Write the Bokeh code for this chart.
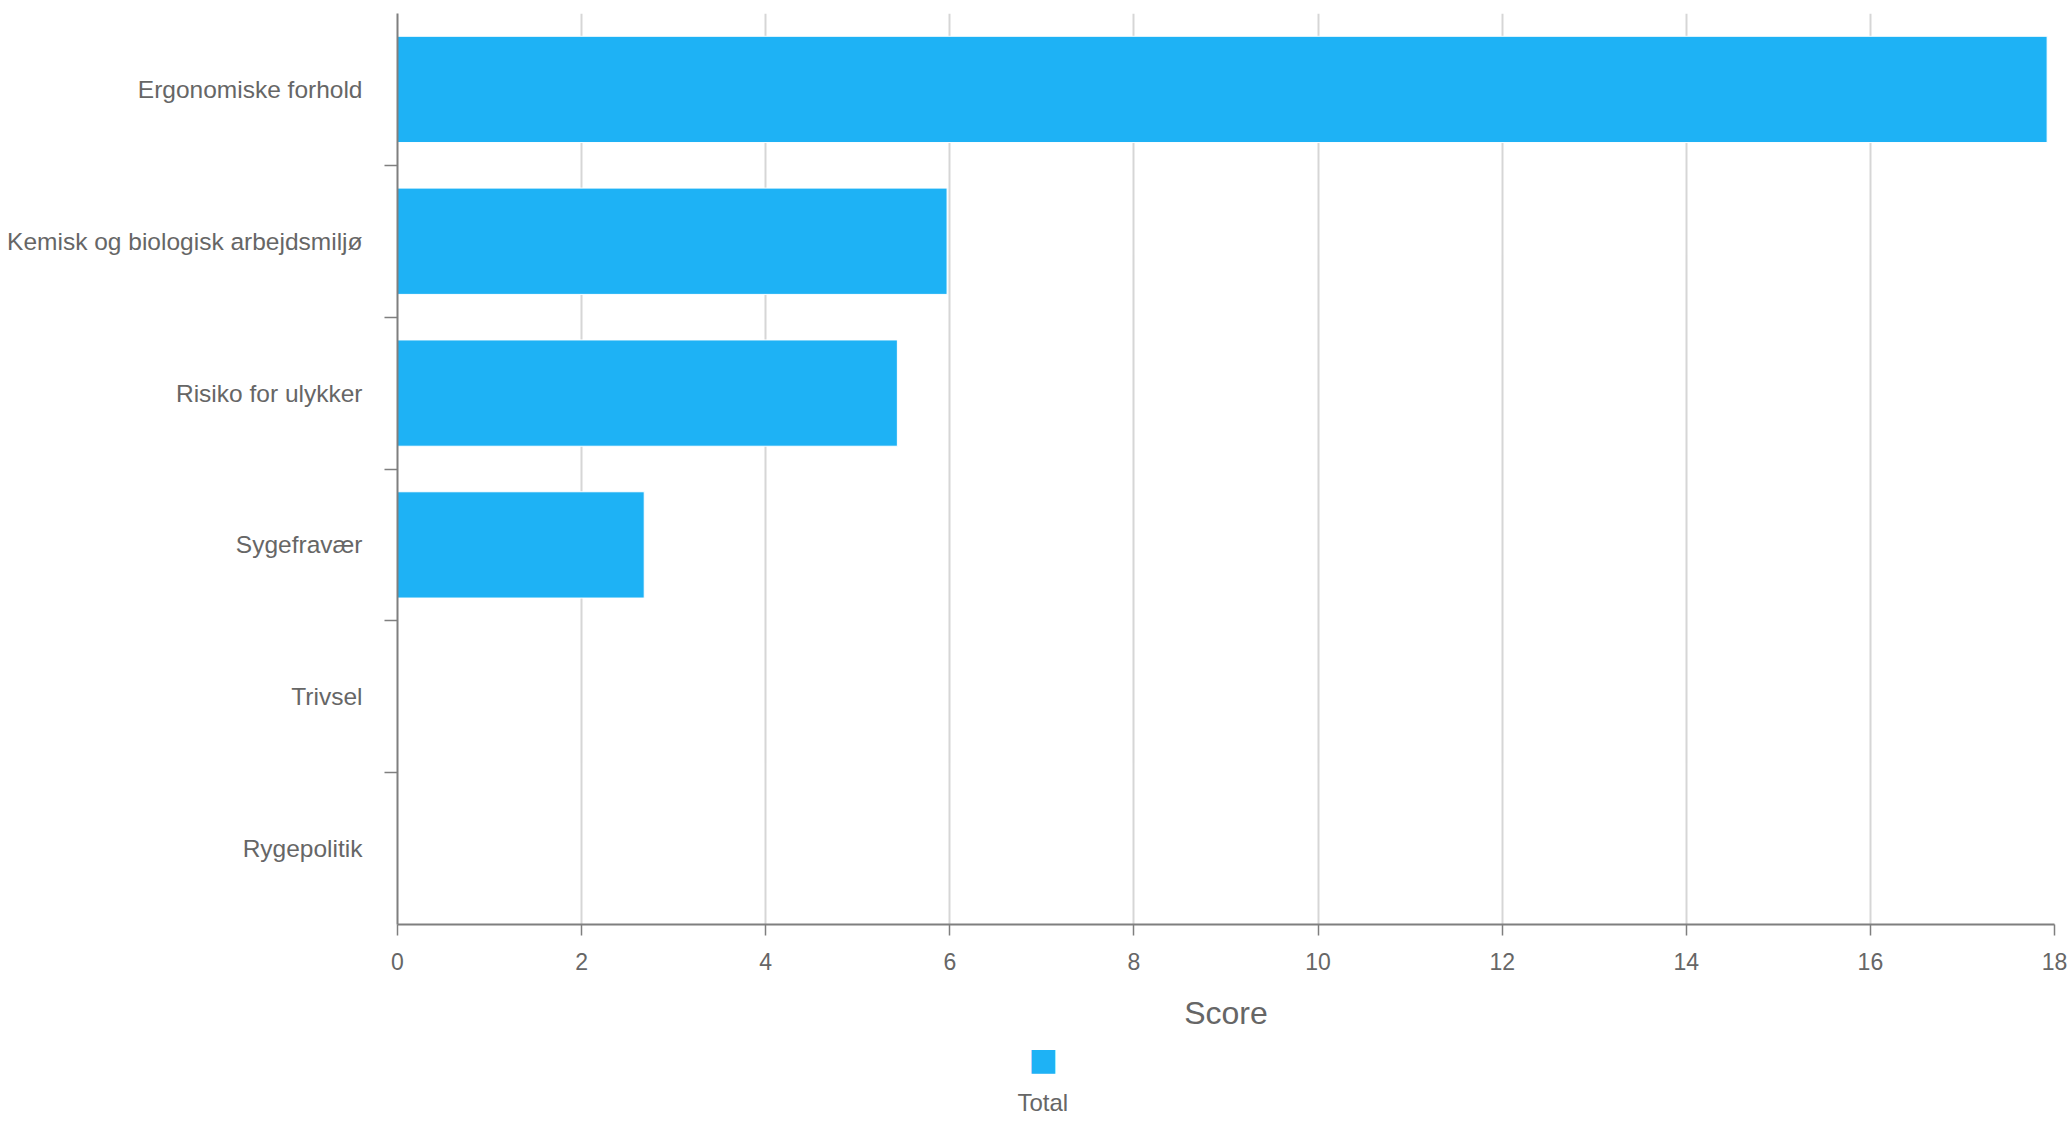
from bokeh.plotting import figure
from bokeh.models import (Range1d, FixedTicker, Title, ColumnDataSource)
from bokeh.embed import file_html
from bokeh.resources import INLINE

# ---- data -------------------------------------------------------------
categories = ["Ergonomiske forhold", "Kemisk og biologisk arbejdsmiljø",
              "Risiko for ulykker", "Sygefravær", "Trivsel", "Rygepolitik"]
scores = [17.92, 5.97, 5.43, 2.68, 0, 0]
x_ticks = [0, 2, 4, 6, 8, 10, 12, 14, 16, 18]
series_name = "Total"
x_title = "Score"

# ---- style ------------------------------------------------------------
FONT = "Liberation Sans"
TEXT = "#666666"
BAR = "#1EB2F5"
AXIS = "#7f7f7f"
GRID = "#d6d6d6"

n = len(categories)
# first category on top: category i sits at band n-1-i
pos = [n - 1 - i for i in range(n)]
src = ColumnDataSource(dict(pos=pos, cat=categories, score=scores))

p = figure(width=2070, height=1120, output_backend="svg", toolbar_location=None,
           y_range=Range1d(-0.5, n - 0.5),
           x_range=Range1d(x_ticks[0], x_ticks[-1]),
           min_border_left=397, min_border_right=16, min_border_top=13,
           min_border_bottom=195)
p.outline_line_color = None
p.background_fill_color = "white"

r = p.hbar(y="pos", right="score", left=0, height=0.7, source=src,
           fill_color=BAR, line_color="white", line_width=1)

# x axis
xa = p.xaxis[0]
xa.ticker = FixedTicker(ticks=x_ticks)
xa.axis_line_color = AXIS
xa.axis_line_width = 2
xa.major_tick_line_color = AXIS
xa.major_tick_line_width = 1.5
xa.major_tick_out = 11
xa.major_tick_in = 0
xa.minor_tick_line_color = None
xa.major_label_text_font = FONT
xa.major_label_text_font_size = "23px"
xa.major_label_text_color = TEXT
xa.major_label_standoff = 17
xa.axis_label = x_title
xa.axis_label_text_font = FONT
xa.axis_label_text_font_size = "32px"
xa.axis_label_text_font_style = "normal"
xa.axis_label_text_color = TEXT
xa.axis_label_standoff = 22

for g in p.xgrid:
    g.ticker = FixedTicker(ticks=x_ticks)
    g.grid_line_color = GRID
    g.grid_line_width = 2
for g in p.ygrid:
    g.visible = False

# y axis: labels at band centres, tick marks at band boundaries
ya = p.yaxis[0]
ya.ticker = FixedTicker(ticks=pos, minor_ticks=[i + 0.5 for i in range(n - 1)])
ya.major_label_overrides = {pp: c for pp, c in zip(pos, categories)}
ya.axis_line_color = AXIS
ya.axis_line_width = 2
ya.major_tick_line_color = None
ya.major_tick_out = 0
ya.major_tick_in = 0
ya.minor_tick_line_color = AXIS
ya.minor_tick_line_width = 1.5
ya.minor_tick_out = 13
ya.minor_tick_in = 0
ya.major_label_text_font = FONT
ya.major_label_text_font_size = "24.5px"
ya.major_label_text_color = TEXT
ya.major_label_standoff = 22

# legend below the plot: colour swatch with the series name underneath
p.add_layout(Title(text="\u25a0", align="left", offset=631, standoff=10,
                   text_font="DejaVu Sans", text_font_size="31px",
                   text_font_style="normal", text_color=BAR), "below")
p.add_layout(Title(text=series_name, align="left", offset=620, standoff=10,
                   text_font=FONT, text_font_size="24px",
                   text_font_style="normal", text_color=TEXT), "below")

open("out.html", "w").write(file_html(p, INLINE))
